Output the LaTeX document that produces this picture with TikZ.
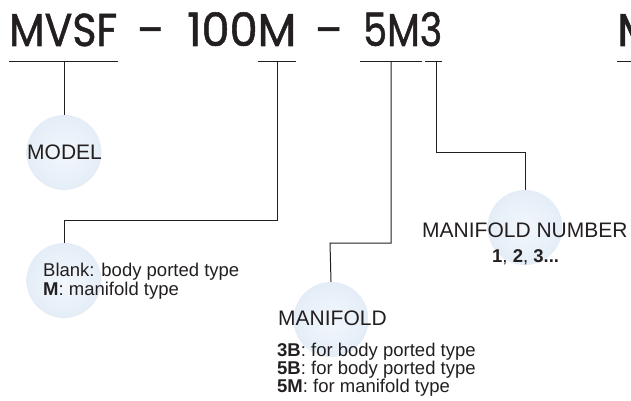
\documentclass[tikz,border=0pt]{standalone}
\usepackage{fontspec}
\usepackage{graphicx}
\setmainfont{Liberation Sans}
\newfontfamily\titlefont[FakeBold=1.2]{Poppins}
\definecolor{ink}{RGB}{35,31,32}
\definecolor{ballin}{RGB}{242,247,252}
\definecolor{ballmid}{RGB}{228,237,247}
\definecolor{ballout}{RGB}{205,222,239}
\pgfdeclareradialshading{ballshade}{\pgfpoint{0bp}{0bp}}{color(0bp)=(ballin); color(25bp)=(ballmid); color(50bp)=(ballout)}
\newcommand{\fitw}[2]{\resizebox{#1}{\height}{#2}}
\begin{document}
\begin{tikzpicture}[x=1pt,y=-1pt,
  ttl/.style={font=\titlefont\fontsize{46}{46}\selectfont, text=ink, inner sep=0pt, anchor=base west},
  ball/.style={circle, minimum size=75pt, inner sep=0pt, shading=ballshade},
  lbl/.style={font=\fontsize{21}{21}\selectfont, text=ink, inner sep=0pt, anchor=base west},
  det/.style={font=\fontsize{18.5}{18.5}\selectfont, text=ink, inner sep=0pt, anchor=base west},
  ln/.style={draw=ink, line width=1pt}]
\useasboundingbox (0,0) rectangle (631,401);
% title
\node[ttl] (t1) at (9,46) {\fitw{108pt}{MVSF}};
\node[ttl] (t2) at (137,46) {\fitw{26pt}{–}};
\node[ttl] (t3) at (187,46) {\fitw{109pt}{100M}};
\node[ttl] (t4) at (315,46) {\fitw{27pt}{–}};
\node[ttl] (t5) at (363,46) {\fitw{79pt}{5M3}};
\node[ttl] (t6) at (617,46) {M};
% underline coordinates
\coordinate (u1a) at (9,62);   \coordinate (u1b) at (118,62);
\coordinate (u2a) at (258,62); \coordinate (u2b) at (296,62);
\coordinate (u3a) at (360,62); \coordinate (u3b) at (422,62);
\coordinate (u4a) at (425,62); \coordinate (u4b) at (442,62);
\coordinate (u5a) at (617,62); \coordinate (u5b) at (631,62);
\coordinate (d1) at (64,62);
\coordinate (d2) at (277,62);
\coordinate (d3) at (391,62);
\coordinate (d4) at (436,62);
\coordinate (j2) at (64,220);
\coordinate (j3) at (330,243);
\coordinate (j4) at (525,152);
% balls
\node[ball] (model) at (64,152.5) {};
\node[ball] (blank) at (64,280.5) {};
\node[ball] (mnum) at (525,227.5) {};
\node[ball] (mani) at (331,319.5) {};
% connectors
\draw[ln] (u1a) -- (u1b);
\draw[ln] (u2a) -- (u2b);
\draw[ln] (u3a) -- (u3b);
\draw[ln] (u4a) -- (u4b);
\draw[ln] (u5a) -- (u5b);
\draw[ln] (d1) -- (model.north);
\draw[ln] (d2) |- (j2) -- (blank.north);
\draw[ln] (d3) |- (j3) -- (mani.north);
\draw[ln] (d4) |- (j4) -- (mnum.north);
% labels
\node[lbl] (lmodel) at (27,159) {MODEL};
\node[det] (lb1) at (43,276) {Blank: body ported type};
\node[det] (lb2) at (43,295) {\textbf{M}: manifold type};
\node[lbl] (lmnum) at (422,237) {MANIFOLD NUMBER};
\node[det] (lnum) at (492,262) {\textbf{1}, \textbf{2}, \textbf{3...}};
\node[lbl] (lmani) at (278,325) {MANIFOLD};
\node[det] (lm1) at (277,356) {\textbf{3B}: for body ported type};
\node[det] (lm2) at (277,374) {\textbf{5B}: for body ported type};
\node[det] (lm3) at (277,392) {\textbf{5M}: for manifold type};
\end{tikzpicture}
\end{document}
